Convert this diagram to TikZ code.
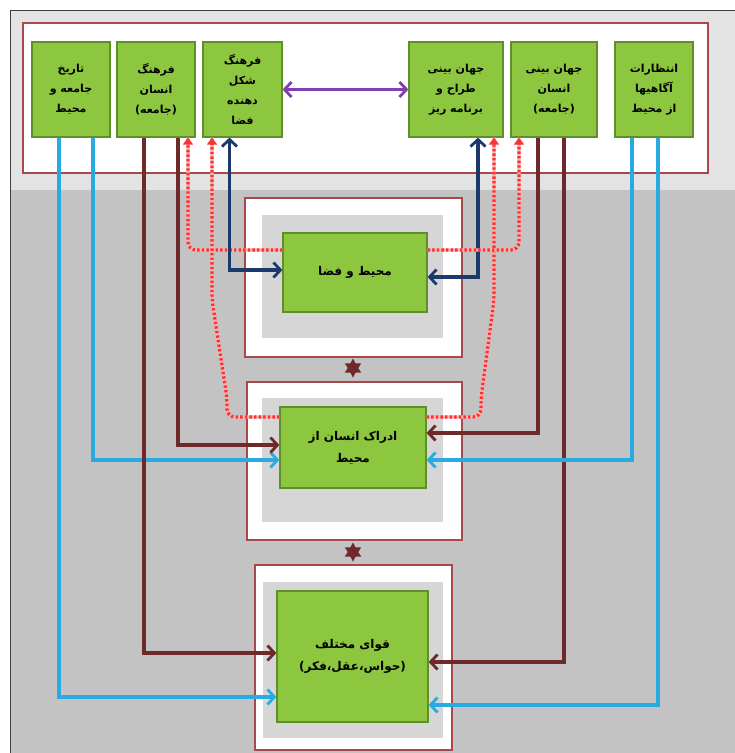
\documentclass[tikz,border=0pt]{standalone}
\usepackage{fontspec}
\newfontfamily\arabicfont[Script=Arabic]{DejaVu Sans}
\TeXXeTstate=1
\usetikzlibrary{arrows.meta,shapes.geometric}
\newcommand{\fa}[1]{{\arabicfont\bfseries\beginR #1\endR}}
\definecolor{gfill}{HTML}{8DC63F}
\definecolor{gdraw}{HTML}{5E8F2A}
\definecolor{bgtop}{HTML}{E3E3E3}
\definecolor{bgbot}{HTML}{C3C3C3}
\definecolor{frred}{HTML}{A84848}
\definecolor{inngray}{HTML}{D6D6D6}
\definecolor{cblue}{HTML}{29ABE2}
\definecolor{cbrown}{HTML}{6E2A2A}
\definecolor{cnavy}{HTML}{1B3A6B}
\definecolor{cpurple}{HTML}{8040B0}
\definecolor{cred}{HTML}{FF3030}
\definecolor{cpink}{HTML}{F5B5B5}
\tikzset{
  gbox/.style={draw=gdraw, fill=gfill, line width=1.2pt, align=center, inner sep=1pt, font=\fontsize{11}{20}\selectfont},
  frame/.style={draw=frred, fill=white, line width=1.8pt},
  inner/.style={fill=inngray},
  chev/.tip={Straight Barb[length=7pt,width=15pt,line width=2.8pt]},
  bl/.style={draw=cblue, line width=3.4pt, -chev},
  br/.style={draw=cbrown, line width=3.4pt, -chev},
  nv/.style={draw=cnavy, line width=3.4pt, chev-chev},
  pu/.style={draw=cpurple, line width=3.4pt, chev-chev},
  rd/.style={preaction={draw=cpink, line width=3.4pt, solid, arrows=-}, draw=cred, line width=3.2pt, dash pattern=on 2.4pt off 2.2pt, rounded corners=8pt, -{Triangle[length=7pt,width=10pt]}},
  starnode/.style={star, star points=6, star point ratio=1.8, fill=cbrown, minimum size=19pt, inner sep=0pt}
}
\begin{document}
\begin{tikzpicture}[x=1pt,y=-1pt]
\useasboundingbox (0,0) rectangle (735,753);
\fill[white] (0,0) rectangle (735,753);
\fill[bgtop] (10,10) rectangle (735,190);
\fill[bgbot] (10,190) rectangle (735,753);
\draw[gray!50!black, line width=1pt] (10,753) -- (10,10) -- (735,10);
\draw[frame] (23,23) rectangle (708,173);
% middle frames
\draw[frame] (245,198) rectangle (462,357);
\fill[inner] (262,215) rectangle (443,338);
\draw[frame] (247,382) rectangle (462,540);
\fill[inner] (262,398) rectangle (443,522);
\draw[frame] (255,565) rectangle (452,750);
\fill[inner] (263,582) rectangle (443,738);
% top boxes
\node[gbox, minimum width=78pt, minimum height=95pt] (b1) at (71,89.5) {\fa{تاریخ}\\\fa{جامعه و}\\\fa{محیط}};
\node[gbox, minimum width=78pt, minimum height=95pt] (b2) at (156,89.5) {\fa{فرهنگ}\\\fa{انسان}\\\fa{(جامعه)}};
\node[gbox, minimum width=79pt, minimum height=95pt] (b3) at (242.5,89.5) {\fa{فرهنگ}\\\fa{شکل}\\\fa{دهنده}\\\fa{فضا}};
\node[gbox, minimum width=94pt, minimum height=95pt] (b4) at (456,89.5) {\fa{جهان بینی}\\\fa{طراح و}\\\fa{برنامه ریز}};
\node[gbox, minimum width=86pt, minimum height=95pt] (b5) at (554,89.5) {\fa{جهان بینی}\\\fa{انسان}\\\fa{(جامعه)}};
\node[gbox, minimum width=78pt, minimum height=95pt] (b6) at (654,89.5) {\fa{انتظارات}\\\fa{آگاهیها}\\\fa{از محیط}};
% middle boxes
\node[gbox, minimum width=144pt, minimum height=79pt, font=\fontsize{12}{22}\selectfont] (gA) at (355,272.5) {\fa{محیط و فضا}};
\node[gbox, minimum width=146pt, minimum height=81pt, font=\fontsize{12}{22}\selectfont] (gB) at (353,447.5) {\fa{ادراک انسان از}\\\fa{محیط}};
\node[gbox, minimum width=151pt, minimum height=131pt, font=\fontsize{12}{22}\selectfont] (gC) at (352.5,656.5) {\fa{قوای مختلف}\\\fa{(حواس،عقل،فکر)}};
% stars
\node[starnode] (s1) at (353,368) {};
\node[starnode] (s2) at (353,552) {};
% purple
\draw[pu] (b3.east) -- (b4.west);
% left connectors
\draw[bl] ([xshift=-12pt]b1.south) |- ([yshift=-40.5pt]gC.west);
\draw[bl] ([xshift=22pt]b1.south) |- ([yshift=-12.5pt]gB.west);
\draw[br] ([xshift=-12pt]b2.south) |- ([yshift=3.5pt]gC.west);
\draw[br] ([xshift=22pt]b2.south) |- ([yshift=2.5pt]gB.west);
\draw[rd] ([yshift=22.5pt]gA.west) -| ([xshift=32pt]b2.south);
\draw[rd] ([yshift=30.5pt]gB.west) -| (227,398) -- (212,300) -- ([xshift=-30.5pt]b3.south);
\draw[nv] ([xshift=-13pt]b3.south) |- ([yshift=2.5pt]gA.west);
% right connectors
\draw[nv] ([xshift=22pt]b4.south) |- ([yshift=-4.5pt]gA.east);
\draw[rd] ([yshift=30.5pt]gB.east) -| (481,398) -- (494,300) -- ([xshift=38pt]b4.south);
\draw[rd] ([yshift=22.5pt]gA.east) -| ([xshift=-35pt]b5.south);
\draw[br] ([xshift=-16pt]b5.south) |- ([yshift=14.5pt]gB.east);
\draw[br] ([xshift=10pt]b5.south) |- ([yshift=-5.5pt]gC.east);
\draw[bl] ([xshift=-22pt]b6.south) |- ([yshift=-12.5pt]gB.east);
\draw[bl] ([xshift=4pt]b6.south) |- ([yshift=-48.5pt]gC.east);
\end{tikzpicture}
\end{document}
